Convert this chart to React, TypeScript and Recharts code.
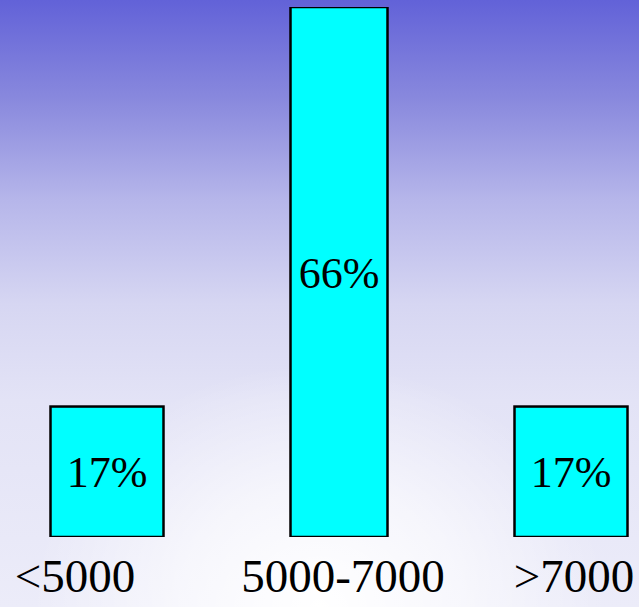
import { BarChart, Bar, XAxis, YAxis, LabelList } from 'recharts';

const categories = ['<5000', '5000-7000', '>7000'];
const shares = [17, 66, 17];

// drawing tweaks (not data)
const BAR_WIDTHS = [113, 97, 113];
const TICK_DX = [-32, 4, 3];
const FONT = '"Liberation Serif", "Times New Roman", serif';

const chartData = categories.map((name, i) => ({ name, value: shares[i] }));

function BarShape(props: any) {
  const { x, y, width, height, index } = props;
  const w = BAR_WIDTHS[index] ?? width;
  const cx = x + width / 2;
  return (
    <rect
      x={cx - w / 2}
      y={y}
      width={w}
      height={height}
      fill="#00ffff"
      stroke="#000"
      strokeWidth={2.5}
    />
  );
}

function Tick(props: any) {
  const { x, y, payload, index } = props;
  return (
    <text
      x={x + (TICK_DX[index] ?? 0)}
      y={y}
      dy={47}
      textAnchor="middle"
      fontSize={47}
      fontFamily={FONT}
      fill="#000"
    >
      {payload.value}
    </text>
  );
}

export default function App() {
  return (
    <div
      style={{
        position: 'fixed',
        left: 0,
        top: 0,
        width: 639,
        height: 607,
        overflow: 'hidden',
        background:
          'radial-gradient(ellipse 45% 40% at 50% 100%, rgba(255,255,255,1) 0%, rgba(255,255,255,0.6) 50%, rgba(255,255,255,0) 100%), linear-gradient(to bottom, #6262d8 0%, #8888dd 16%, #b6b6ea 33%, #d6d6f2 50%, #e3e3f6 66%, #ececf9 100%)',
      }}
    >
      <div style={{ position: 'absolute', left: -9, top: 0 }}>
        <BarChart
          width={696}
          height={607}
          data={chartData}
          margin={{ top: 7, right: 0, bottom: 0, left: 0 }}
          barCategoryGap={60}
        >
          <XAxis
            dataKey="name"
            height={70}
            axisLine={false}
            tickLine={false}
            interval={0}
            tick={<Tick />}
          />
          <YAxis hide domain={[1, 66]} allowDataOverflow />
          <Bar dataKey="value" shape={<BarShape />} isAnimationActive={false}>
            <LabelList
              dataKey="value"
              position="center"
              formatter={(v: any) => `${v}%`}
              fontSize={44}
              fontFamily={FONT}
              fill="#000"
            />
          </Bar>
        </BarChart>
      </div>
    </div>
  );
}
